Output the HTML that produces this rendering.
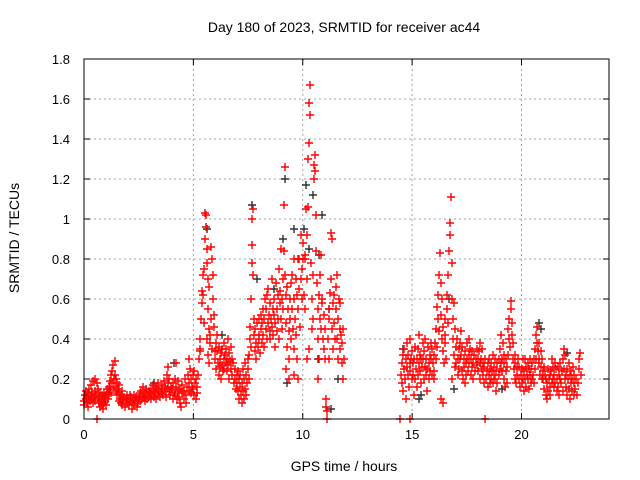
<!DOCTYPE html>
<html><head><meta charset="utf-8"><style>
html,body{margin:0;padding:0;background:#fff;}
svg{display:block;font-family:"Liberation Sans",sans-serif;}
#red-series path{stroke:#ff0000 !important;}
#black-series path{stroke:#303030 !important;}
</style></head><body>
<svg id="chart" width="640" height="480" viewBox="0 0 640 480" xmlns="http://www.w3.org/2000/svg">
<rect width="640" height="480" fill="#fff"/>
<text x="344" y="32" font-size="14" text-anchor="middle" fill="#000">Day 180 of 2023, SRMTID for receiver ac44</text>
<text transform="translate(19,238) rotate(-90)" font-size="14" text-anchor="middle" fill="#000">SRMTID / TECUs</text>
<text x="344" y="471" font-size="14" text-anchor="middle" fill="#000">GPS time / hours</text>
<g id="grid"></g>
<g id="ticks"></g>
<g id="black-series" stroke="#303030" style="stroke:#303030"></g>
<g id="red-series" stroke="#ff0000" style="stroke:#ff0000"></g>
<rect x="84" y="59" width="525" height="360" fill="none" stroke="#000" stroke-width="1"/>
</svg>
<script>
const xTicks=[0,5,10,15,20];
const yTicks=[0,0.2,0.4,0.6,0.8,1,1.2,1.4,1.6,1.8];
const yTickLabels=["0","0.2","0.4","0.6","0.8","1","1.2","1.4","1.6","1.8"];
const blackPts=[[7.7,1.07],[9.2,1.2],[10.15,1.17],[10.45,1.12],[10.9,1.02],[7.9,0.7],[9.1,0.9],[10.3,0.85],[11.2,0.55],[14.6,0.35],[15.4,0.12],[15.3,0.1],[20.8,0.48],[22.1,0.33],[11.3,0.05],[10.75,0.82],[9.3,0.18],[10.7,0.3],[4.1,0.28],[9.6,0.95],[10.05,0.95],[8.7,0.65],[11.6,0.2],[16.9,0.15],[5.6,0.95],[16.7,0.6],[20.9,0.45],[19.1,0.15],[6.3,0.42],[3.2,0.18]];
const redPts=[
[0,0.09],[0.02,0.07],[0.05,0.12],[0.08,0.1],[0.1,0.14],[0.12,0.08],[0.15,0.11],[0.18,0.13],[0.2,0.06],[0.22,0.1],[0.25,0.15],[0.28,0.09],[0.3,0.12],[0.32,0.17],[0.35,0.1],[0.38,0.13],[0.4,0.08],[0.42,0.19],[0.45,0.11],[0.48,0.14],
[0.5,0.2],[0.52,0.09],[0.55,0.12],[0.58,0.18],[0.6,0],[0.62,0.1],[0.65,0.15],[0.68,0.08],[0.7,0.11],[0.72,0.06],[0.75,0.13],[0.78,0.09],[0.8,0.07],[0.82,0.12],[0.85,0.1],[0.88,0.05],[0.9,0.08],[0.92,0.13],[0.95,0.09],[0.98,0.11],
[1.0,0.07],[1.02,0.12],[1.05,0.15],[1.08,0.1],[1.1,0.13],[1.12,0.16],[1.15,0.12],[1.18,0.19],[1.2,0.15],[1.22,0.13],[1.25,0.22],[1.28,0.24],[1.3,0.18],[1.32,0.27],[1.35,0.2],[1.38,0.16],[1.4,0.29],[1.42,0.22],[1.45,0.14],[1.48,0.2],
[1.5,0.18],[1.52,0.12],[1.55,0.15],[1.58,0.09],[1.6,0.13],[1.62,0.17],[1.65,0.1],[1.68,0.08],[1.7,0.12],[1.72,0.14],[1.75,0.07],[1.78,0.1],[1.8,0.09],[1.85,0.11],[1.88,0.06],[1.9,0.1],[1.95,0.08],[1.98,0.12],
[2.0,0.1],[2.05,0.07],[2.08,0.12],[2.1,0.09],[2.15,0.11],[2.18,0.05],[2.2,0.08],[2.25,0.1],[2.28,0.12],[2.3,0.07],[2.35,0.09],[2.38,0.11],[2.4,0.06],[2.45,0.1],[2.48,0.08],
[2.5,0.11],[2.55,0.13],[2.58,0.09],[2.6,0.14],[2.65,0.1],[2.68,0.12],[2.7,0.16],[2.75,0.11],[2.78,0.09],[2.8,0.13],[2.85,0.15],[2.88,0.1],[2.9,0.12],[2.95,0.14],[2.98,0.11],
[3.0,0.13],[3.05,0.1],[3.08,0.15],[3.1,0.12],[3.15,0.17],[3.18,0.11],[3.2,0.14],[3.25,0.13],[3.28,0.16],[3.3,0.1],[3.35,0.15],[3.38,0.12],[3.4,0.18],[3.45,0.14],[3.48,0.11],
[3.5,0.15],[3.55,0.13],[3.58,0.17],[3.6,0.12],[3.65,0.19],[3.68,0.14],[3.7,0.16],[3.75,0.11],[3.78,0.15],[3.8,0.22],[3.82,0.18],[3.85,0.26],[3.88,0.14],[3.9,0.2],[3.95,0.12],[3.98,0.16],
[4.0,0.15],[4.05,0.18],[4.08,0.1],[4.1,0.13],[4.15,0.2],[4.18,0.12],[4.2,0.28],[4.22,0.16],[4.25,0.1],[4.28,0.14],[4.3,0.19],[4.35,0.11],[4.38,0.08],[4.4,0.15],[4.45,0.06],[4.48,0.13],
[4.5,0.17],[4.55,0.1],[4.58,0.14],[4.6,0.2],[4.65,0.12],[4.68,0.08],[4.7,0.16],[4.75,0.22],[4.78,0.14],[4.8,0.3],[4.82,0.18],[4.85,0.25],[4.88,0.13],[4.9,0.2],[4.95,0.16],[4.98,0.22],
[5.0,0.15],[5.02,0.24],[5.05,0.12],[5.08,0.18],[5.1,0.1],[5.12,0.2],[5.15,0.16],[5.18,0.13],[5.2,0.22],[5.25,0.3],[5.28,0.35],[5.3,0.4],[5.32,0.34],[5.35,0.5],[5.38,0.64],[5.4,0.58],[5.42,0.72],[5.45,0.62],[5.48,0.48],
[5.5,0.75],[5.52,0.9],[5.55,1.03],[5.57,1.02],[5.58,0.96],[5.6,0.85],[5.62,0.78],[5.65,0.7],[5.68,0.55],[5.7,0.45],[5.72,0.66],[5.75,0.42],[5.78,0.38],[5.8,0.5],[5.82,0.86],[5.85,0.8],[5.88,0.72],[5.9,0.6],[5.92,0.52],[5.95,0.46],[5.98,0.34],[5.65,0.32],[5.72,0.28],[5.85,0.35],[5.6,0.4],
[6.0,0.3],[6.02,0.38],[6.05,0.25],[6.08,0.34],[6.1,0.42],[6.12,0.28],[6.15,0.36],[6.18,0.22],[6.2,0.3],[6.22,0.26],[6.25,0.33],[6.28,0.2],[6.3,0.27],[6.32,0.35],[6.35,0.24],[6.38,0.3],[6.4,0.38],[6.42,0.25],[6.45,0.32],[6.48,0.28],
[6.5,0.35],[6.52,0.24],[6.55,0.3],[6.58,0.4],[6.6,0.27],[6.62,0.33],[6.65,0.2],[6.68,0.29],[6.7,0.36],[6.72,0.25],[6.75,0.3],[6.78,0.22],[6.8,0.28],[6.85,0.18],[6.88,0.25],[6.9,0.2],[6.95,0.15],[6.98,0.22],
[7.0,0.18],[7.02,0.24],[7.05,0.14],[7.08,0.2],[7.1,0.1],[7.12,0.16],[7.15,0.22],[7.18,0.12],[7.2,0.08],[7.22,0.18],[7.25,0.14],[7.28,0.25],[7.3,0.1],[7.32,0.2],[7.35,0.15],[7.38,0.28],[7.4,0.12],[7.42,0.22],[7.45,0.18],[7.48,0.3],
[7.5,0.25],[7.52,0.2],[7.55,0.32],[7.58,0.4],[7.6,0.46],[7.62,0.36],[7.65,0.6],[7.66,0.78],[7.68,0.87],[7.7,1.0],[7.72,1.05],[7.74,0.72],[7.75,0.5],[7.78,0.42],[7.8,0.34],[7.82,0.45],[7.85,0.38],[7.88,0.3],[7.9,0.48],[7.95,0.36],[7.98,0.42],
[8.0,0.4],[8.02,0.5],[8.05,0.33],[8.08,0.45],[8.1,0.52],[8.12,0.38],[8.15,0.48],[8.18,0.55],[8.2,0.42],[8.22,0.36],[8.25,0.5],[8.28,0.6],[8.3,0.45],[8.32,0.55],[8.35,0.4],[8.38,0.62],[8.4,0.48],[8.42,0.65],[8.45,0.52],[8.48,0.44],
[8.5,0.58],[8.52,0.4],[8.55,0.5],[8.58,0.7],[8.6,0.46],[8.62,0.55],[8.65,0.42],[8.68,0.6],[8.7,0.52],[8.72,0.36],[8.75,0.48],[8.78,0.68],[8.8,0.55],[8.82,0.44],[8.85,0.62],[8.88,0.5],[8.9,0.75],[8.92,0.4],[8.95,0.58],[8.98,0.64],
[9.0,0.5],[9.02,0.85],[9.04,0.6],[9.05,0.45],[9.08,0.7],[9.1,0.55],[9.12,0.84],[9.15,1.07],[9.18,1.26],[9.2,0.72],[9.22,0.62],[9.25,0.48],[9.28,0.66],[9.3,0.36],[9.32,0.55],[9.35,0.44],[9.38,0.3],[9.4,0.6],[9.42,0.5],[9.45,0.68],[9.48,0.4],[9.25,0.25],[9.35,0.2],
[9.5,0.55],[9.52,0.72],[9.55,0.45],[9.58,0.8],[9.6,0.6],[9.62,0.35],[9.65,0.5],[9.68,0.7],[9.7,0.42],[9.72,0.62],[9.75,0.3],[9.78,0.55],[9.8,0.8],[9.82,0.65],[9.85,0.8],[9.88,0.46],[9.9,0.92],[9.92,0.7],[9.95,0.6],[9.98,0.75],[9.6,0.22],[9.8,0.2],
[10.0,0.8],[10.02,0.88],[10.05,0.62],[10.08,0.8],[10.1,0.55],[10.12,0.82],[10.15,1.05],[10.18,0.92],[10.2,0.7],[10.22,1.06],[10.25,1.3],[10.28,1.38],[10.3,1.58],[10.32,1.67],[10.35,1.52],[10.38,0.78],[10.4,0.6],[10.42,0.45],[10.45,0.72],[10.48,0.5],[10.3,0.35],[10.2,0.3],
[10.5,1.2],[10.52,1.27],[10.55,1.32],[10.58,1.24],[10.6,1.02],[10.62,0.84],[10.65,0.68],[10.68,0.55],[10.7,0.4],[10.72,0.62],[10.75,0.3],[10.78,0.5],[10.8,0.72],[10.82,0.45],[10.85,0.82],[10.88,0.58],[10.9,0.6],[10.92,0.4],[10.95,0.52],[10.98,0.35],[10.7,0.2],
[11.0,0.45],[11.02,0.3],[11.05,0.1],[11.08,0.06],[11.1,0.04],[11.12,0.0],[11.15,0.4],[11.18,0.55],[11.2,0.3],[11.22,0.5],[11.25,0.63],[11.28,0.7],[11.3,0.93],[11.32,0.9],[11.35,0.45],[11.38,0.58],[11.4,0.35],[11.42,0.62],[11.45,0.48],[11.48,0.4],
[11.5,0.55],[11.52,0.66],[11.55,0.72],[11.58,0.4],[11.6,0.5],[11.62,0.3],[11.65,0.6],[11.68,0.45],[11.7,0.35],[11.72,0.58],[11.75,0.42],[11.78,0.28],[11.8,0.38],[11.82,0.2],[11.85,0.45],[11.88,0.3],
[14.45,0],[14.9,0],[18.32,0],
[14.5,0.22],[14.52,0.28],[14.55,0.18],[14.58,0.32],[14.6,0.14],[14.62,0.25],[14.65,0.35],[14.68,0.2],[14.7,0.3],[14.72,0.1],[14.75,0.26],[14.78,0.38],[14.8,0.22],[14.82,0.32],[14.85,0.16],[14.88,0.28],[14.9,0.4],[14.92,0.24],[14.95,0.3],[14.98,0.2],
[15.0,0.34],[15.02,0.22],[15.05,0.28],[15.08,0.12],[15.1,0.3],[15.12,0.2],[15.15,0.36],[15.18,0.25],[15.2,0.16],[15.22,0.3],[15.25,0.22],[15.28,0.35],[15.3,0.28],[15.32,0.42],[15.35,0.24],[15.38,0.32],[15.4,0.18],[15.42,0.3],[15.45,0.26],[15.48,0.38],
[15.5,0.3],[15.52,0.2],[15.55,0.34],[15.58,0.26],[15.6,0.4],[15.62,0.22],[15.65,0.3],[15.68,0.14],[15.7,0.25],[15.72,0.36],[15.75,0.28],[15.78,0.2],[15.8,0.32],[15.82,0.24],[15.85,0.38],[15.88,0.3],[15.9,0.22],[15.92,0.35],[15.95,0.28],[15.98,0.2],
[16.0,0.32],[16.02,0.24],[16.05,0.38],[16.08,0.3],[16.1,0.45],[16.12,0.36],[16.15,0.56],[16.18,0.5],[16.2,0.62],[16.22,0.44],[16.25,0.72],[16.28,0.83],[16.3,0.68],[16.32,0.52],[16.35,0.4],[16.38,0.6],[16.4,0.34],[16.42,0.46],[16.45,0.28],[16.48,0.38],[16.3,0.1],[16.4,0.08],
[16.5,0.5],[16.52,0.42],[16.55,0.3],[16.58,0.55],[16.6,0.62],[16.62,0.48],[16.65,0.72],[16.7,0.84],[16.72,0.92],[16.75,0.98],[16.78,1.11],[16.8,0.78],[16.82,0.6],[16.85,0.5],[16.88,0.4],[16.9,0.58],[16.92,0.32],[16.95,0.45],[16.98,0.26],[16.8,0.2],
[17.0,0.36],[17.02,0.28],[17.05,0.4],[17.08,0.3],[17.1,0.22],[17.12,0.35],[17.15,0.25],[17.18,0.38],[17.2,0.3],[17.22,0.44],[17.25,0.32],[17.28,0.24],[17.3,0.36],[17.32,0.2],[17.35,0.3],[17.38,0.26],[17.4,0.34],[17.42,0.18],[17.45,0.28],[17.48,0.22],
[17.5,0.3],[17.52,0.38],[17.55,0.24],[17.58,0.32],[17.6,0.4],[17.62,0.28],[17.65,0.35],[17.68,0.22],[17.7,0.3],[17.72,0.26],[17.75,0.34],[17.78,0.2],[17.8,0.28],[17.85,0.32],[17.88,0.24],[17.9,0.3],[17.95,0.35],[17.98,0.27],
[18.0,0.3],[18.02,0.24],[18.05,0.34],[18.08,0.28],[18.1,0.38],[18.12,0.2],[18.15,0.3],[18.18,0.25],[18.2,0.35],[18.22,0.22],[18.25,0.28],[18.28,0.18],[18.3,0.26],[18.35,0.3],[18.38,0.2],[18.4,0.24],[18.45,0.28],[18.48,0.16],
[18.5,0.22],[18.52,0.3],[18.55,0.18],[18.58,0.25],[18.6,0.28],[18.62,0.2],[18.65,0.24],[18.68,0.32],[18.7,0.18],[18.72,0.26],[18.75,0.22],[18.78,0.3],[18.8,0.2],[18.82,0.14],[18.85,0.24],[18.88,0.28],[18.9,0.18],[18.95,0.22],[18.98,0.3],
[19.0,0.25],[19.02,0.35],[19.05,0.28],[19.08,0.42],[19.1,0.3],[19.12,0.24],[19.15,0.38],[19.18,0.32],[19.2,0.2],[19.22,0.28],[19.25,0.16],[19.28,0.24],[19.3,0.3],[19.32,0.18],[19.35,0.26],[19.38,0.45],[19.4,0.32],[19.42,0.5],[19.45,0.4],[19.48,0.36],
[19.5,0.59],[19.52,0.55],[19.55,0.48],[19.58,0.42],[19.6,0.3],[19.62,0.38],[19.65,0.25],[19.68,0.32],[19.7,0.2],[19.72,0.28],[19.75,0.18],[19.78,0.26],[19.8,0.22],[19.85,0.3],[19.88,0.2],[19.9,0.26],[19.95,0.16],[19.98,0.22],
[20.0,0.25],[20.02,0.18],[20.05,0.3],[20.08,0.2],[20.1,0.14],[20.12,0.24],[20.15,0.3],[20.18,0.2],[20.2,0.26],[20.22,0.16],[20.25,0.22],[20.28,0.28],[20.3,0.2],[20.32,0.25],[20.35,0.15],[20.38,0.22],[20.4,0.3],[20.42,0.18],[20.45,0.25],[20.48,0.2],
[20.5,0.28],[20.52,0.22],[20.55,0.3],[20.58,0.18],[20.6,0.25],[20.62,0.35],[20.65,0.3],[20.68,0.42],[20.7,0.38],[20.72,0.46],[20.75,0.34],[20.78,0.28],[20.8,0.38],[20.82,0.3],[20.85,0.22],[20.88,0.34],[20.9,0.26],[20.92,0.2],[20.95,0.3],[20.98,0.24],
[21.0,0.2],[21.02,0.26],[21.05,0.15],[21.08,0.22],[21.1,0.12],[21.12,0.2],[21.15,0.1],[21.18,0.18],[21.2,0.25],[21.22,0.14],[21.25,0.2],[21.28,0.12],[21.3,0.22],[21.32,0.16],[21.35,0.24],[21.38,0.18],[21.4,0.3],[21.42,0.2],[21.45,0.26],[21.48,0.16],
[21.5,0.22],[21.52,0.28],[21.55,0.18],[21.58,0.25],[21.6,0.14],[21.62,0.2],[21.65,0.26],[21.68,0.16],[21.7,0.22],[21.72,0.12],[21.75,0.2],[21.78,0.28],[21.8,0.18],[21.85,0.24],[21.88,0.14],[21.9,0.3],[21.92,0.35],[21.95,0.25],[21.98,0.2],
[22.0,0.32],[22.02,0.22],[22.05,0.16],[22.08,0.25],[22.1,0.12],[22.12,0.2],[22.15,0.28],[22.18,0.15],[22.2,0.22],[22.22,0.1],[22.25,0.18],[22.28,0.24],[22.3,0.14],[22.32,0.2],[22.35,0.26],[22.38,0.12],[22.4,0.18],[22.42,0.22],[22.45,0.15],[22.5,0.2],[22.55,0.12],[22.6,0.18],[22.62,0.25],[22.65,0.3],[22.68,0.33],[22.7,0.22]
];
const NS="http://www.w3.org/2000/svg";
const X0=84,X1=609,Y0=419,Y1=59,XMAX=24,YMAX=1.8;
function xs(v){return X0+(X1-X0)*v/XMAX;}
function ys(v){return Y0-(Y0-Y1)*v/YMAX;}
function mk(tag,attrs,parent){const e=document.createElementNS(NS,tag);for(const k in attrs)e.setAttribute(k,attrs[k]);parent.appendChild(e);return e;}
const grid=document.getElementById('grid'),ticks=document.getElementById('ticks');
xTicks.forEach(t=>{
  const x=xs(t);
  if(t>0){const g=mk('line',{x1:x,x2:x,y1:Y1,y2:Y0,stroke:'#a0a0a0','stroke-dasharray':'2,3'},grid);
  
  }
  mk('line',{x1:x,x2:x,y1:Y0,y2:Y0-6,stroke:'#000'},ticks);
  mk('line',{x1:x,x2:x,y1:Y1,y2:Y1+6,stroke:'#000'},ticks);
  const l=mk('text',{x:x,y:Y0+20,'font-size':13,'text-anchor':'middle',fill:'#000'},ticks);
  l.textContent=String(t);
  
  
});
yTicks.forEach((t,i)=>{
  const y=ys(t);
  if(t>0&&t<YMAX){const g=mk('line',{x1:X0,x2:X1,y1:y,y2:y,stroke:'#a0a0a0','stroke-dasharray':'2,3'},grid);
  
  }
  mk('line',{x1:X0,x2:X0+6,y1:y,y2:y,stroke:'#000'},ticks);
  mk('line',{x1:X1,x2:X1-6,y1:y,y2:y,stroke:'#000'},ticks);
  const l=mk('text',{x:X0-14,y:y+5,'font-size':13,'text-anchor':'end',fill:'#000'},ticks);
  l.textContent=yTickLabels[i];
  
  
});
function plot(pts,gid,color,name){
  const g=document.getElementById(gid);
  pts.forEach(p=>{
    const x=Math.round(xs(p[0])),y=Math.round(ys(p[1]));
    const e=mk('path',{d:`M${x-4},${y}H${x+4}M${x},${y-4}V${y+4}`,fill:'none'},g);
    e.setAttribute('style','stroke:'+color+';stroke-width:1.4');
    
    
  });
}
plot(blackPts,'black-series','#303030','black-point');
plot(redPts,'red-series','#ff0000','red-point');
</script>
</body></html>
